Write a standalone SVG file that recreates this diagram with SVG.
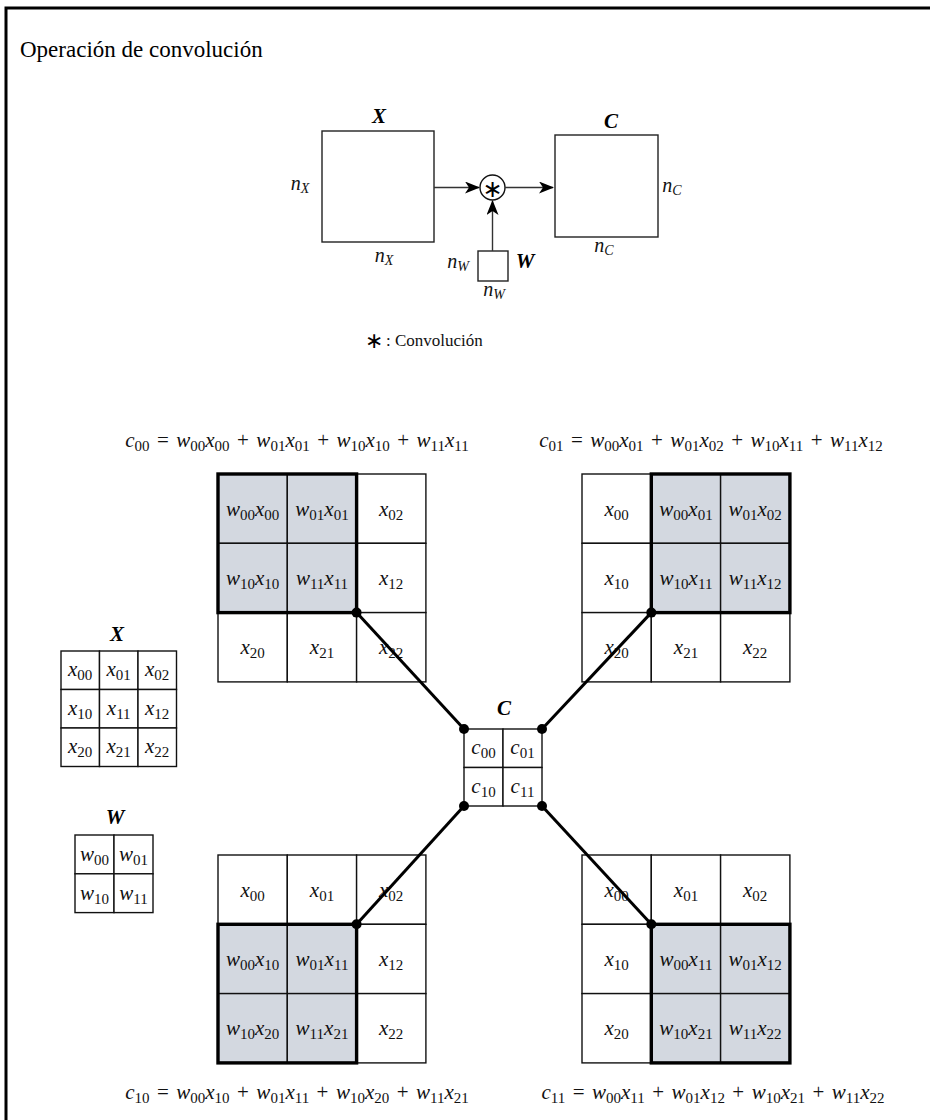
<svg xmlns="http://www.w3.org/2000/svg" width="930" height="1120" viewBox="0 0 930 1120">
<defs>
<style>
.frame{fill:none;stroke:#000;stroke-width:3}
.box{fill:#fff;stroke:#222;stroke-width:1.4}
.cell{fill:#fff;stroke:#111;stroke-width:1.4}
.sh{fill:#d3d8e0;stroke:#111;stroke-width:1.4}
.bold{fill:none;stroke:#000;stroke-width:3.4}
.conn{stroke:#000;stroke-width:3;fill:none}
.arr{stroke:#333;stroke-width:1.4;fill:none}
.dot{fill:#000}
.m{font-family:"Liberation Serif","DejaVu Serif",serif;font-style:italic;font-size:21px;fill:#111}
.f{word-spacing:2.2px}
.s{font-size:15px;font-style:normal}
.ss{font-size:14px}
.n{font-family:"Liberation Serif","DejaVu Serif",serif;font-style:italic;font-size:20px;fill:#111}
.B{font-family:"Liberation Serif","DejaVu Serif",serif;font-style:italic;font-weight:bold;font-size:21px;fill:#000}
.t{font-family:"Liberation Serif","DejaVu Serif",serif;font-size:23px;fill:#000}
.r{font-family:"Liberation Serif","DejaVu Serif",serif;font-size:17px;fill:#111}
.ast{font-family:"DejaVu Sans",sans-serif;font-style:normal}
</style>
<marker id="ah" markerWidth="16" markerHeight="12" refX="14" refY="6" orient="auto" markerUnits="userSpaceOnUse">
<path d="M0,0 L15,6 L0,12 L4,6 Z" fill="#000"/>
</marker>
</defs>

<rect class="frame" x="6" y="8" width="940" height="1130"/>
<text class="t" x="20" y="57">Operación de convolución</text>

<!-- top diagram -->
<g id="top-X">
<rect class="box" x="322" y="131" width="112" height="111"/>
<text class="B" x="379" y="123" text-anchor="middle">X</text>
<text class="n" x="300" y="190" text-anchor="middle">n<tspan class="ss" dy="3">X</tspan></text>
<text class="n" x="384" y="262" text-anchor="middle">n<tspan class="ss" dy="3">X</tspan></text>
</g>
<g id="top-conv">
<circle cx="492.5" cy="187.5" r="12.5" fill="#fff" stroke="#111" stroke-width="1.4"/>
<text class="ast" x="492.5" y="197" font-size="24" text-anchor="middle">∗</text>
</g>
<g id="top-W">
<rect class="box" x="478" y="251" width="30" height="30"/>
<text class="n" x="458" y="268" text-anchor="middle">n<tspan class="ss" dy="3">W</tspan></text>
<text class="B" x="525" y="268" text-anchor="middle">W</text>
<text class="n" x="494" y="296" text-anchor="middle">n<tspan class="ss" dy="3">W</tspan></text>
</g>
<g id="top-C">
<rect class="box" x="555" y="135" width="103" height="102"/>
<text class="B" x="611" y="128" text-anchor="middle">C</text>
<text class="n" x="672" y="192" text-anchor="middle">n<tspan class="ss" dy="3">C</tspan></text>
<text class="n" x="604" y="252" text-anchor="middle">n<tspan class="ss" dy="3">C</tspan></text>
</g>
<g id="legend">
<text class="ast" x="365" y="348" font-size="22">∗</text>
<text class="r" x="386" y="346">: Convolución</text>
</g>

<!-- formulas -->
<g id="formulas">
<text class="m f" x="297" y="447" text-anchor="middle">c<tspan class="s" dy="4">00</tspan><tspan dy="-4" font-style="normal"> = </tspan>w<tspan class="s" dy="4">00</tspan><tspan dy="-4">x</tspan><tspan class="s" dy="4">00</tspan><tspan dy="-4" font-style="normal"> + </tspan>w<tspan class="s" dy="4">01</tspan><tspan dy="-4">x</tspan><tspan class="s" dy="4">01</tspan><tspan dy="-4" font-style="normal"> + </tspan>w<tspan class="s" dy="4">10</tspan><tspan dy="-4">x</tspan><tspan class="s" dy="4">10</tspan><tspan dy="-4" font-style="normal"> + </tspan>w<tspan class="s" dy="4">11</tspan><tspan dy="-4">x</tspan><tspan class="s" dy="4">11</tspan></text>
<text class="m f" x="711" y="447" text-anchor="middle">c<tspan class="s" dy="4">01</tspan><tspan dy="-4" font-style="normal"> = </tspan>w<tspan class="s" dy="4">00</tspan><tspan dy="-4">x</tspan><tspan class="s" dy="4">01</tspan><tspan dy="-4" font-style="normal"> + </tspan>w<tspan class="s" dy="4">01</tspan><tspan dy="-4">x</tspan><tspan class="s" dy="4">02</tspan><tspan dy="-4" font-style="normal"> + </tspan>w<tspan class="s" dy="4">10</tspan><tspan dy="-4">x</tspan><tspan class="s" dy="4">11</tspan><tspan dy="-4" font-style="normal"> + </tspan>w<tspan class="s" dy="4">11</tspan><tspan dy="-4">x</tspan><tspan class="s" dy="4">12</tspan></text>
<text class="m f" x="297" y="1099" text-anchor="middle">c<tspan class="s" dy="4">10</tspan><tspan dy="-4" font-style="normal"> = </tspan>w<tspan class="s" dy="4">00</tspan><tspan dy="-4">x</tspan><tspan class="s" dy="4">10</tspan><tspan dy="-4" font-style="normal"> + </tspan>w<tspan class="s" dy="4">01</tspan><tspan dy="-4">x</tspan><tspan class="s" dy="4">11</tspan><tspan dy="-4" font-style="normal"> + </tspan>w<tspan class="s" dy="4">10</tspan><tspan dy="-4">x</tspan><tspan class="s" dy="4">20</tspan><tspan dy="-4" font-style="normal"> + </tspan>w<tspan class="s" dy="4">11</tspan><tspan dy="-4">x</tspan><tspan class="s" dy="4">21</tspan></text>
<text class="m f" x="713" y="1099" text-anchor="middle">c<tspan class="s" dy="4">11</tspan><tspan dy="-4" font-style="normal"> = </tspan>w<tspan class="s" dy="4">00</tspan><tspan dy="-4">x</tspan><tspan class="s" dy="4">11</tspan><tspan dy="-4" font-style="normal"> + </tspan>w<tspan class="s" dy="4">01</tspan><tspan dy="-4">x</tspan><tspan class="s" dy="4">12</tspan><tspan dy="-4" font-style="normal"> + </tspan>w<tspan class="s" dy="4">10</tspan><tspan dy="-4">x</tspan><tspan class="s" dy="4">21</tspan><tspan dy="-4" font-style="normal"> + </tspan>w<tspan class="s" dy="4">11</tspan><tspan dy="-4">x</tspan><tspan class="s" dy="4">22</tspan></text>
</g>

<!-- grid c00 -->
<g id="grid-c00">
<rect class="sh" x="218" y="474" width="69.3" height="69.3"/>
<rect class="sh" x="287.3" y="474" width="69.3" height="69.3"/>
<rect class="cell" x="356.6" y="474" width="69.3" height="69.3"/>
<rect class="sh" x="218" y="543.3" width="69.3" height="69.3"/>
<rect class="sh" x="287.3" y="543.3" width="69.3" height="69.3"/>
<rect class="cell" x="356.6" y="543.3" width="69.3" height="69.3"/>
<rect class="cell" x="218" y="612.6" width="69.3" height="69.3"/>
<rect class="cell" x="287.3" y="612.6" width="69.3" height="69.3"/>
<rect class="cell" x="356.6" y="612.6" width="69.3" height="69.3"/>
<rect class="bold" x="218" y="474" width="138.6" height="138.6"/>
<text class="m" x="252.6" y="516" text-anchor="middle">w<tspan class="s" dy="4">00</tspan><tspan dy="-4">x</tspan><tspan class="s" dy="4">00</tspan></text>
<text class="m" x="322" y="516" text-anchor="middle">w<tspan class="s" dy="4">01</tspan><tspan dy="-4">x</tspan><tspan class="s" dy="4">01</tspan></text>
<text class="m" x="391.2" y="516" text-anchor="middle">x<tspan class="s" dy="4">02</tspan></text>
<text class="m" x="252.6" y="585" text-anchor="middle">w<tspan class="s" dy="4">10</tspan><tspan dy="-4">x</tspan><tspan class="s" dy="4">10</tspan></text>
<text class="m" x="322" y="585" text-anchor="middle">w<tspan class="s" dy="4">11</tspan><tspan dy="-4">x</tspan><tspan class="s" dy="4">11</tspan></text>
<text class="m" x="391.2" y="585" text-anchor="middle">x<tspan class="s" dy="4">12</tspan></text>
<text class="m" x="252.6" y="654" text-anchor="middle">x<tspan class="s" dy="4">20</tspan></text>
<text class="m" x="322" y="654" text-anchor="middle">x<tspan class="s" dy="4">21</tspan></text>
<text class="m" x="391.2" y="654" text-anchor="middle">x<tspan class="s" dy="4">22</tspan></text>
</g>

<!-- grid c01 -->
<g id="grid-c01">
<rect class="cell" x="582" y="474" width="69.3" height="69.3"/>
<rect class="sh" x="651.3" y="474" width="69.3" height="69.3"/>
<rect class="sh" x="720.6" y="474" width="69.3" height="69.3"/>
<rect class="cell" x="582" y="543.3" width="69.3" height="69.3"/>
<rect class="sh" x="651.3" y="543.3" width="69.3" height="69.3"/>
<rect class="sh" x="720.6" y="543.3" width="69.3" height="69.3"/>
<rect class="cell" x="582" y="612.6" width="69.3" height="69.3"/>
<rect class="cell" x="651.3" y="612.6" width="69.3" height="69.3"/>
<rect class="cell" x="720.6" y="612.6" width="69.3" height="69.3"/>
<rect class="bold" x="651.3" y="474" width="138.6" height="138.6"/>
<text class="m" x="616.6" y="516" text-anchor="middle">x<tspan class="s" dy="4">00</tspan></text>
<text class="m" x="686" y="516" text-anchor="middle">w<tspan class="s" dy="4">00</tspan><tspan dy="-4">x</tspan><tspan class="s" dy="4">01</tspan></text>
<text class="m" x="755.2" y="516" text-anchor="middle">w<tspan class="s" dy="4">01</tspan><tspan dy="-4">x</tspan><tspan class="s" dy="4">02</tspan></text>
<text class="m" x="616.6" y="585" text-anchor="middle">x<tspan class="s" dy="4">10</tspan></text>
<text class="m" x="686" y="585" text-anchor="middle">w<tspan class="s" dy="4">10</tspan><tspan dy="-4">x</tspan><tspan class="s" dy="4">11</tspan></text>
<text class="m" x="755.2" y="585" text-anchor="middle">w<tspan class="s" dy="4">11</tspan><tspan dy="-4">x</tspan><tspan class="s" dy="4">12</tspan></text>
<text class="m" x="616.6" y="654" text-anchor="middle">x<tspan class="s" dy="4">20</tspan></text>
<text class="m" x="686" y="654" text-anchor="middle">x<tspan class="s" dy="4">21</tspan></text>
<text class="m" x="755.2" y="654" text-anchor="middle">x<tspan class="s" dy="4">22</tspan></text>
</g>

<!-- grid c10 -->
<g id="grid-c10">
<rect class="cell" x="218" y="855" width="69.3" height="69.3"/>
<rect class="cell" x="287.3" y="855" width="69.3" height="69.3"/>
<rect class="cell" x="356.6" y="855" width="69.3" height="69.3"/>
<rect class="sh" x="218" y="924.3" width="69.3" height="69.3"/>
<rect class="sh" x="287.3" y="924.3" width="69.3" height="69.3"/>
<rect class="cell" x="356.6" y="924.3" width="69.3" height="69.3"/>
<rect class="sh" x="218" y="993.6" width="69.3" height="69.3"/>
<rect class="sh" x="287.3" y="993.6" width="69.3" height="69.3"/>
<rect class="cell" x="356.6" y="993.6" width="69.3" height="69.3"/>
<rect class="bold" x="218" y="924.3" width="138.6" height="138.6"/>
<text class="m" x="252.6" y="897" text-anchor="middle">x<tspan class="s" dy="4">00</tspan></text>
<text class="m" x="322" y="897" text-anchor="middle">x<tspan class="s" dy="4">01</tspan></text>
<text class="m" x="391.2" y="897" text-anchor="middle">x<tspan class="s" dy="4">02</tspan></text>
<text class="m" x="252.6" y="966" text-anchor="middle">w<tspan class="s" dy="4">00</tspan><tspan dy="-4">x</tspan><tspan class="s" dy="4">10</tspan></text>
<text class="m" x="322" y="966" text-anchor="middle">w<tspan class="s" dy="4">01</tspan><tspan dy="-4">x</tspan><tspan class="s" dy="4">11</tspan></text>
<text class="m" x="391.2" y="966" text-anchor="middle">x<tspan class="s" dy="4">12</tspan></text>
<text class="m" x="252.6" y="1035" text-anchor="middle">w<tspan class="s" dy="4">10</tspan><tspan dy="-4">x</tspan><tspan class="s" dy="4">20</tspan></text>
<text class="m" x="322" y="1035" text-anchor="middle">w<tspan class="s" dy="4">11</tspan><tspan dy="-4">x</tspan><tspan class="s" dy="4">21</tspan></text>
<text class="m" x="391.2" y="1035" text-anchor="middle">x<tspan class="s" dy="4">22</tspan></text>
</g>

<!-- grid c11 -->
<g id="grid-c11">
<rect class="cell" x="582" y="855" width="69.3" height="69.3"/>
<rect class="cell" x="651.3" y="855" width="69.3" height="69.3"/>
<rect class="cell" x="720.6" y="855" width="69.3" height="69.3"/>
<rect class="cell" x="582" y="924.3" width="69.3" height="69.3"/>
<rect class="sh" x="651.3" y="924.3" width="69.3" height="69.3"/>
<rect class="sh" x="720.6" y="924.3" width="69.3" height="69.3"/>
<rect class="cell" x="582" y="993.6" width="69.3" height="69.3"/>
<rect class="sh" x="651.3" y="993.6" width="69.3" height="69.3"/>
<rect class="sh" x="720.6" y="993.6" width="69.3" height="69.3"/>
<rect class="bold" x="651.3" y="924.3" width="138.6" height="138.6"/>
<text class="m" x="616.6" y="897" text-anchor="middle">x<tspan class="s" dy="4">00</tspan></text>
<text class="m" x="686" y="897" text-anchor="middle">x<tspan class="s" dy="4">01</tspan></text>
<text class="m" x="755.2" y="897" text-anchor="middle">x<tspan class="s" dy="4">02</tspan></text>
<text class="m" x="616.6" y="966" text-anchor="middle">x<tspan class="s" dy="4">10</tspan></text>
<text class="m" x="686" y="966" text-anchor="middle">w<tspan class="s" dy="4">00</tspan><tspan dy="-4">x</tspan><tspan class="s" dy="4">11</tspan></text>
<text class="m" x="755.2" y="966" text-anchor="middle">w<tspan class="s" dy="4">01</tspan><tspan dy="-4">x</tspan><tspan class="s" dy="4">12</tspan></text>
<text class="m" x="616.6" y="1035" text-anchor="middle">x<tspan class="s" dy="4">20</tspan></text>
<text class="m" x="686" y="1035" text-anchor="middle">w<tspan class="s" dy="4">10</tspan><tspan dy="-4">x</tspan><tspan class="s" dy="4">21</tspan></text>
<text class="m" x="755.2" y="1035" text-anchor="middle">w<tspan class="s" dy="4">11</tspan><tspan dy="-4">x</tspan><tspan class="s" dy="4">22</tspan></text>
</g>

<!-- center C -->
<g id="grid-C">
<text class="B" x="504" y="715" text-anchor="middle">C</text>
<rect class="cell" x="464" y="729" width="39" height="38.5"/>
<rect class="cell" x="503" y="729" width="39" height="38.5"/>
<rect class="cell" x="464" y="767.5" width="39" height="38.5"/>
<rect class="cell" x="503" y="767.5" width="39" height="38.5"/>
<text class="m" x="483.5" y="754" text-anchor="middle">c<tspan class="s" dy="4">00</tspan></text>
<text class="m" x="522.5" y="754" text-anchor="middle">c<tspan class="s" dy="4">01</tspan></text>
<text class="m" x="483.5" y="793" text-anchor="middle">c<tspan class="s" dy="4">10</tspan></text>
<text class="m" x="522.5" y="793" text-anchor="middle">c<tspan class="s" dy="4">11</tspan></text>
</g>

<!-- small X -->
<g id="small-X">
<text class="B" x="117" y="641" text-anchor="middle">X</text>
<rect class="cell" x="61" y="651" width="38.5" height="38.5"/>
<rect class="cell" x="99.5" y="651" width="38.5" height="38.5"/>
<rect class="cell" x="138" y="651" width="38.5" height="38.5"/>
<rect class="cell" x="61" y="689.5" width="38.5" height="38.5"/>
<rect class="cell" x="99.5" y="689.5" width="38.5" height="38.5"/>
<rect class="cell" x="138" y="689.5" width="38.5" height="38.5"/>
<rect class="cell" x="61" y="728" width="38.5" height="38.5"/>
<rect class="cell" x="99.5" y="728" width="38.5" height="38.5"/>
<rect class="cell" x="138" y="728" width="38.5" height="38.5"/>
<text class="m" x="80.2" y="676" text-anchor="middle">x<tspan class="s" dy="4">00</tspan></text>
<text class="m" x="118.7" y="676" text-anchor="middle">x<tspan class="s" dy="4">01</tspan></text>
<text class="m" x="157.2" y="676" text-anchor="middle">x<tspan class="s" dy="4">02</tspan></text>
<text class="m" x="80.2" y="715" text-anchor="middle">x<tspan class="s" dy="4">10</tspan></text>
<text class="m" x="118.7" y="715" text-anchor="middle">x<tspan class="s" dy="4">11</tspan></text>
<text class="m" x="157.2" y="715" text-anchor="middle">x<tspan class="s" dy="4">12</tspan></text>
<text class="m" x="80.2" y="753" text-anchor="middle">x<tspan class="s" dy="4">20</tspan></text>
<text class="m" x="118.7" y="753" text-anchor="middle">x<tspan class="s" dy="4">21</tspan></text>
<text class="m" x="157.2" y="753" text-anchor="middle">x<tspan class="s" dy="4">22</tspan></text>
</g>

<!-- small W -->
<g id="small-W">
<text class="B" x="115" y="824" text-anchor="middle">W</text>
<rect class="cell" x="75" y="835" width="39" height="38.8"/>
<rect class="cell" x="114" y="835" width="39" height="38.8"/>
<rect class="cell" x="75" y="873.8" width="39" height="38.8"/>
<rect class="cell" x="114" y="873.8" width="39" height="38.8"/>
<text class="m" x="94.5" y="861" text-anchor="middle">w<tspan class="s" dy="4">00</tspan></text>
<text class="m" x="133.5" y="861" text-anchor="middle">w<tspan class="s" dy="4">01</tspan></text>
<text class="m" x="94.5" y="900" text-anchor="middle">w<tspan class="s" dy="4">10</tspan></text>
<text class="m" x="133.5" y="900" text-anchor="middle">w<tspan class="s" dy="4">11</tspan></text>
</g>

<!-- connectors -->
<g id="connectors">
<line class="arr" x1="434" y1="187.5" x2="479" y2="187.5" marker-end="url(#ah)"/>
<line class="arr" x1="505" y1="187.5" x2="553" y2="187.5" marker-end="url(#ah)"/>
<line class="arr" x1="492.5" y1="251" x2="492.5" y2="201" marker-end="url(#ah)"/>
<line class="conn" x1="356.6" y1="612.6" x2="464" y2="729"/>
<line class="conn" x1="651.3" y1="612.6" x2="542" y2="729"/>
<line class="conn" x1="356.6" y1="924.3" x2="464" y2="806"/>
<line class="conn" x1="651.3" y1="924.3" x2="542" y2="806"/>
<circle class="dot" cx="356.6" cy="612.6" r="5"/>
<circle class="dot" cx="651.3" cy="612.6" r="5"/>
<circle class="dot" cx="356.6" cy="924.3" r="5"/>
<circle class="dot" cx="651.3" cy="924.3" r="5"/>
<circle class="dot" cx="464" cy="729" r="5"/>
<circle class="dot" cx="542" cy="729" r="5"/>
<circle class="dot" cx="464" cy="806" r="5"/>
<circle class="dot" cx="542" cy="806" r="5"/>
</g>
</svg>
